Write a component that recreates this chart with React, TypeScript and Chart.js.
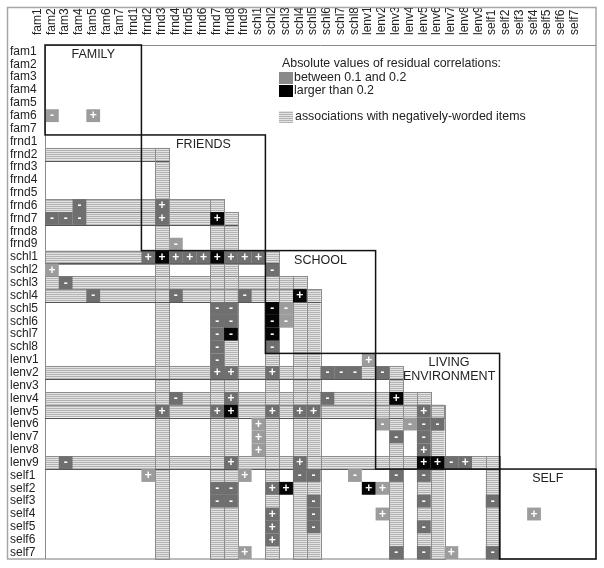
import { useEffect, useRef } from 'react';
import { Chart, registerables } from 'chart.js';

Chart.register(...registerables);

const familyItems = ['fam1', 'fam2', 'fam3', 'fam4', 'fam5', 'fam6', 'fam7'];
const friendsItems = ['frnd1', 'frnd2', 'frnd3', 'frnd4', 'frnd5', 'frnd6', 'frnd7', 'frnd8', 'frnd9'];
const schoolItems = ['schl1', 'schl2', 'schl3', 'schl4', 'schl5', 'schl6', 'schl7', 'schl8'];
const livingItems = ['lenv1', 'lenv2', 'lenv3', 'lenv4', 'lenv5', 'lenv6', 'lenv7', 'lenv8', 'lenv9'];
const selfItems = ['self1', 'self2', 'self3', 'self4', 'self5', 'self6', 'self7'];
const items = [...familyItems, ...friendsItems, ...schoolItems, ...livingItems, ...selfItems];

const domainLabels = ['FAMILY', 'FRIENDS', 'SCHOOL', 'LIVING\nENVIRONMENT', 'SELF'];
const domainGroups = [familyItems, friendsItems, schoolItems, livingItems, selfItems];

const negativelyWordedItems = ['frnd2', 'frnd6', 'frnd7', 'schl1', 'schl3', 'schl4', 'lenv2', 'lenv4', 'lenv5', 'lenv9'];

// [row item, column item, sign] : |residual| between 0.1 and 0.2
const moderateResiduals: [string, string, string][] = [
  ['fam6', 'fam1', '-'], ['fam6', 'fam4', '+'],
  ['frnd6', 'fam3', '-'], ['frnd6', 'frnd2', '+'],
  ['frnd7', 'fam1', '-'], ['frnd7', 'fam2', '-'], ['frnd7', 'fam3', '-'], ['frnd7', 'frnd2', '+'],
  ['frnd9', 'frnd3', '-'],
  ['schl1', 'frnd1', '+'], ['schl1', 'frnd3', '+'], ['schl1', 'frnd4', '+'], ['schl1', 'frnd5', '+'],
  ['schl1', 'frnd7', '+'], ['schl1', 'frnd8', '+'], ['schl1', 'frnd9', '+'],
  ['schl2', 'fam1', '+'], ['schl2', 'schl1', '-'],
  ['schl3', 'fam2', '-'],
  ['schl4', 'fam4', '-'], ['schl4', 'frnd3', '-'], ['schl4', 'frnd8', '-'],
  ['schl5', 'frnd6', '-'], ['schl5', 'frnd7', '-'], ['schl5', 'schl2', '-'],
  ['schl6', 'frnd6', '-'], ['schl6', 'frnd7', '-'], ['schl6', 'schl2', '-'],
  ['schl7', 'frnd6', '-'],
  ['schl8', 'frnd6', '-'], ['schl8', 'schl1', '-'],
  ['lenv1', 'frnd6', '-'], ['lenv1', 'schl8', '+'],
  ['lenv2', 'frnd6', '+'], ['lenv2', 'frnd7', '+'], ['lenv2', 'schl1', '+'], ['lenv2', 'schl5', '-'],
  ['lenv2', 'schl6', '-'], ['lenv2', 'schl7', '-'], ['lenv2', 'lenv1', '-'],
  ['lenv4', 'frnd3', '-'], ['lenv4', 'frnd7', '+'], ['lenv4', 'schl5', '-'],
  ['lenv5', 'frnd2', '+'], ['lenv5', 'frnd6', '+'], ['lenv5', 'schl1', '+'], ['lenv5', 'schl3', '+'],
  ['lenv5', 'schl4', '+'], ['lenv5', 'lenv4', '+'],
  ['lenv6', 'frnd9', '+'], ['lenv6', 'lenv1', '-'], ['lenv6', 'lenv3', '-'], ['lenv6', 'lenv4', '-'], ['lenv6', 'lenv5', '-'],
  ['lenv7', 'frnd9', '+'], ['lenv7', 'lenv2', '-'], ['lenv7', 'lenv4', '-'],
  ['lenv8', 'frnd9', '+'], ['lenv8', 'lenv4', '+'],
  ['lenv9', 'fam2', '-'], ['lenv9', 'frnd7', '+'], ['lenv9', 'schl3', '+'], ['lenv9', 'lenv6', '-'], ['lenv9', 'lenv7', '+'],
  ['self1', 'frnd1', '+'], ['self1', 'frnd8', '+'], ['self1', 'schl3', '-'], ['self1', 'schl4', '-'],
  ['self1', 'schl7', '-'], ['self1', 'lenv2', '-'], ['self1', 'lenv4', '-'],
  ['self2', 'frnd6', '-'], ['self2', 'frnd7', '-'], ['self2', 'schl1', '+'], ['self2', 'lenv1', '+'],
  ['self3', 'frnd6', '-'], ['self3', 'frnd7', '-'], ['self3', 'schl4', '-'], ['self3', 'lenv4', '-'], ['self3', 'lenv9', '-'],
  ['self4', 'schl1', '+'], ['self4', 'schl4', '-'], ['self4', 'lenv1', '+'], ['self4', 'self3', '+'],
  ['self5', 'schl1', '+'], ['self5', 'schl4', '-'], ['self5', 'lenv4', '-'],
  ['self6', 'schl1', '+'],
  ['self7', 'frnd8', '+'], ['self7', 'lenv2', '-'], ['self7', 'lenv4', '-'], ['self7', 'lenv6', '+'], ['self7', 'lenv9', '-'],
];

// [row item, column item, sign] : |residual| larger than 0.2
const largeResiduals: [string, string, string][] = [
  ['frnd7', 'frnd6', '+'], ['schl1', 'frnd2', '+'], ['schl1', 'frnd6', '+'], ['schl4', 'schl3', '+'],
  ['schl5', 'schl1', '-'], ['schl6', 'schl1', '-'], ['schl7', 'frnd7', '-'], ['schl7', 'schl1', '-'],
  ['lenv4', 'lenv2', '+'], ['lenv5', 'frnd7', '+'], ['lenv9', 'lenv4', '+'], ['lenv9', 'lenv5', '+'],
  ['self2', 'schl2', '+'], ['self2', 'schl8', '+'],
];

const legendTitle = 'Absolute values of residual correlations:';
const legendModerate = 'between 0.1 and 0.2';
const legendLarge = 'larger than 0.2';
const legendNegative = 'associations with negatively-worded items';

const FONT = "'Liberation Sans', Arial, Helvetica, sans-serif";
const TEXT = '#222';
const GRAY_ON_WHITE = '#9c9c9c';
const GRAY_ON_STRIPE = '#6f6f6f';
const LEGEND_GRAY = '#8a8a8a';

function makeStripePattern(ctx: CanvasRenderingContext2D) {
  const c = document.createElement('canvas');
  c.width = 4;
  c.height = 2;
  const g = c.getContext('2d')!;
  g.fillStyle = '#e3e3e3';
  g.fillRect(0, 0, 4, 2);
  g.fillStyle = '#b3b3b3';
  g.fillRect(0, 0, 4, 1);
  return ctx.createPattern(c, 'repeat')!;
}

const matrixPlugin = {
  id: 'residualMatrix',
  afterDatasetsDraw(chart: any) {
    const { ctx, chartArea: ca, scales } = chart;
    const xs = scales.x;
    const ys = scales.y;
    const n = items.length;
    const cw = (xs.right - xs.left) / n;
    const ch = (ys.bottom - ys.top) / n;
    const L = (i: number) => xs.getPixelForValue(i) - cw / 2;
    const T = (i: number) => ys.getPixelForValue(i) - ch / 2;
    const negSet = new Set(negativelyWordedItems);
    const stripes = makeStripePattern(ctx);

    ctx.save();
    // outer frame
    ctx.strokeStyle = '#a6a6a6';
    ctx.lineWidth = 1.5;
    ctx.strokeRect(7.5, 7.5, ca.right - 7.5, ca.bottom - 7.5);
    ctx.strokeStyle = '#8a8a8a';
    ctx.lineWidth = 1;
    ctx.beginPath();
    ctx.moveTo(ca.left, ca.top + 0.5);
    ctx.lineTo(ca.right, ca.top + 0.5);
    ctx.moveTo(ca.left + 0.5, ca.top);
    ctx.lineTo(ca.left + 0.5, ca.bottom);
    ctx.stroke();

    // stripe bands for negatively-worded items
    const bands: { x: number; y: number; w: number; h: number; row: boolean }[] = [];
    negativelyWordedItems.forEach((it) => {
      const k = items.indexOf(it);
      bands.push({ x: L(0), y: T(k), w: L(k) + cw - L(0), h: ch, row: true });
      bands.push({ x: L(k), y: T(k), w: cw, h: T(n - 1) + ch - T(k), row: false });
    });
    ctx.fillStyle = stripes;
    bands.forEach((b) => ctx.fillRect(b.x, b.y, b.w, b.h));
    ctx.lineWidth = 1;
    bands.forEach((b) => {
      ctx.strokeStyle = '#8c8c8c';
      ctx.strokeRect(Math.round(b.x) + 0.5, Math.round(b.y) + 0.5, Math.round(b.w), Math.round(b.h));
      if (b.row) {
        ctx.strokeStyle = '#555';
        ctx.beginPath();
        const yy = Math.round(b.y + b.h) + 0.5;
        ctx.moveTo(b.x, yy);
        ctx.lineTo(b.x + b.w, yy);
        ctx.stroke();
      }
    });

    // cells
    const drawCell = (rowItem: string, colItem: string, sign: string, large: boolean) => {
      const r = items.indexOf(rowItem);
      const c = items.indexOf(colItem);
      const onStripe = (negSet.has(rowItem) && c <= r) || (negSet.has(colItem) && r >= c);
      ctx.fillStyle = large ? '#050505' : onStripe ? GRAY_ON_STRIPE : GRAY_ON_WHITE;
      ctx.fillRect(L(c), T(r), cw, ch);
      ctx.fillStyle = '#ffffff';
      ctx.font = `bold 12px ${FONT}`;
      ctx.textAlign = 'center';
      ctx.textBaseline = 'middle';
      ctx.fillText(sign, xs.getPixelForValue(c), ys.getPixelForValue(r) + 0.5);
    };
    moderateResiduals.forEach(([r, c, s]) => drawCell(r, c, s, false));
    largeResiduals.forEach(([r, c, s]) => drawCell(r, c, s, true));

    // domain boxes and labels
    const labelDx = [0, 0, 0, 11.5, 0];
    domainGroups.forEach((g, gi) => {
      const f = items.indexOf(g[0]);
      const l = items.indexOf(g[g.length - 1]);
      const x0 = L(f);
      const y0 = T(f);
      const w = (l - f + 1) * cw;
      const h = (l - f + 1) * ch;
      ctx.strokeStyle = '#111';
      ctx.lineWidth = 1.5;
      ctx.strokeRect(x0, y0, w, h);
      ctx.fillStyle = TEXT;
      ctx.font = `12.5px ${FONT}`;
      ctx.textAlign = 'center';
      ctx.textBaseline = 'middle';
      domainLabels[gi].split('\n').forEach((line, li) => {
        ctx.fillText(line, x0 + w / 2 + labelDx[gi], y0 + 9.5 + li * 14);
      });
    });

    // legend
    ctx.font = `12.4px ${FONT}`;
    ctx.textAlign = 'left';
    ctx.textBaseline = 'middle';
    ctx.fillStyle = TEXT;
    ctx.fillText(legendTitle, 282, 64);
    ctx.fillStyle = LEGEND_GRAY;
    ctx.fillRect(279, 72, 14, 12);
    ctx.fillStyle = '#000';
    ctx.fillRect(279, 85, 14, 12);
    ctx.fillStyle = stripes;
    ctx.fillRect(279, 111, 14, 12);
    ctx.fillStyle = TEXT;
    ctx.fillText(legendModerate, 294, 78);
    ctx.fillText(legendLarge, 294, 90.5);
    ctx.fillText(legendNegative, 295, 117);
    ctx.restore();
  },
};

export default function App() {
  const ref = useRef<HTMLCanvasElement>(null);
  useEffect(() => {
    if (!ref.current) return;
    const chart = new Chart(ref.current, {
      type: 'bar',
      data: { labels: items, datasets: [] },
      options: {
        animation: false,
        responsive: false,
        events: [],
        layout: { padding: { left: 10, top: 8, right: 8, bottom: 9 } },
        plugins: { legend: { display: false }, tooltip: { enabled: false } },
        scales: {
          x: {
            type: 'category',
            position: 'top',
            offset: true,
            grid: { display: false },
            border: { display: false },
            ticks: {
              autoSkip: false,
              minRotation: 90,
              maxRotation: 90,
              padding: 2,
              color: TEXT,
              font: { family: FONT, size: 12 },
            },
            afterFit: (s: any) => {
              s.height = 37;
            },
          },
          y: {
            type: 'category',
            labels: items,
            offset: true,
            position: 'left',
            grid: { display: false },
            border: { display: false },
            ticks: {
              autoSkip: false,
              crossAlign: 'far',
              padding: 0,
              color: TEXT,
              font: { family: FONT, size: 12 },
            },
            afterFit: (s: any) => {
              s.width = 35;
            },
          },
        },
      } as any,
      plugins: [matrixPlugin],
    });
    return () => chart.destroy();
  }, []);
  return (
    <div style={{ position: 'absolute', left: 0, top: 0, width: 604, height: 568, background: '#fff' }}>
      <canvas ref={ref} width={604} height={568} style={{ display: 'block' }} />
    </div>
  );
}
